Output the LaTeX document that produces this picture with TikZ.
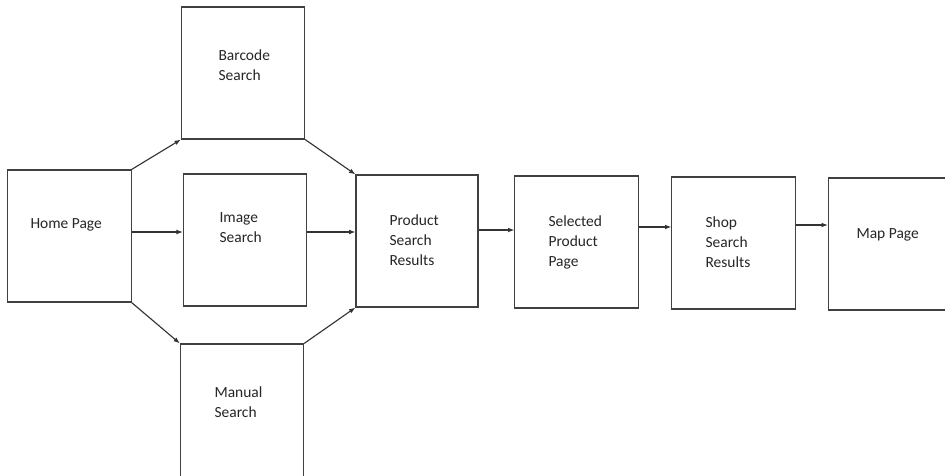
\documentclass[tikz,border=0pt]{standalone}
\usepackage{fontspec}
\setmainfont{Carlito}
\usetikzlibrary{arrows.meta,calc}

\begin{document}
\begin{tikzpicture}[x=0.025cm, y=-0.025cm, ->, >={Latex[length=4.5pt,width=3.4pt]}, draw=black!80, line width=0.8pt]
    \tikzstyle{page}=[rectangle, draw=black!75, minimum width=3.08cm, minimum height=3.3cm, inner sep=0pt]
    \tikzstyle{caption}=[anchor=north west, inner sep=0pt, align=left, font=\fontsize{11}{14.2}\selectfont, text=black!85]

    % Fix the frame and cut the boxes that run off it
    \useasboundingbox (0,0) rectangle (945,475);
    \fill[white] (0,0) rectangle (945,475);
    \clip (0,0) rectangle (945,475);

    % Draw the page boxes
    \node[page] (home) at (69.5,236) {};
    \node[page] (barcode) at (243,73) {};
    \node[page] (image) at (245,240) {};
    \node[page, minimum height=3.7cm] (manual) at (242,418) {};
    \node[page, minimum width=3.05cm] (product) at (417,241) {};
    \node[page] (selected) at (576.5,242) {};
    \node[page] (shop) at (733.5,243) {};
    \node[page] (map) at (890,244) {};

    % Write the page names
    \node[caption] (home-t) at (30,218) {Home Page};
    \node[caption] (barcode-t) at (218,49) {Barcode\\Search};
    \node[caption] (image-t) at (219,212) {Image\\Search};
    \node[caption] (manual-t) at (214,386) {Manual\\Search};
    \node[caption] (product-t) at (389,214) {Product\\Search\\Results};
    \node[caption] (selected-t) at (548,215) {Selected\\Product\\Page};
    \node[caption] (shop-t) at (705,216) {Shop\\Search\\Results};
    \node[caption] (map-t) at (856,228) {Map Page};

    % Connect the corners of the search boxes
    \foreach \source/\dest in {home.north east/barcode.south west,
                               home.south east/manual.north west,
                               barcode.south east/product.north west,
                               manual.north east/product.south west}
        \path (\source) edge (\dest);

    % Connect the straight steps
    \path ($(home.east)+(0,-4)$) edge ($(image.west)+(0,-8)$);
    \path ($(image.east)+(0,-8)$) edge ($(product.west)+(0,-9)$);
    \path ($(product.east)+(0,-11)$) edge ($(selected.west)+(0,-12)$);
    \path ($(selected.east)+(0,-15)$) edge ($(shop.west)+(0,-16)$);
    \path ($(shop.east)+(0,-18)$) edge ($(map.west)+(0,-19)$);
\end{tikzpicture}
\end{document}
